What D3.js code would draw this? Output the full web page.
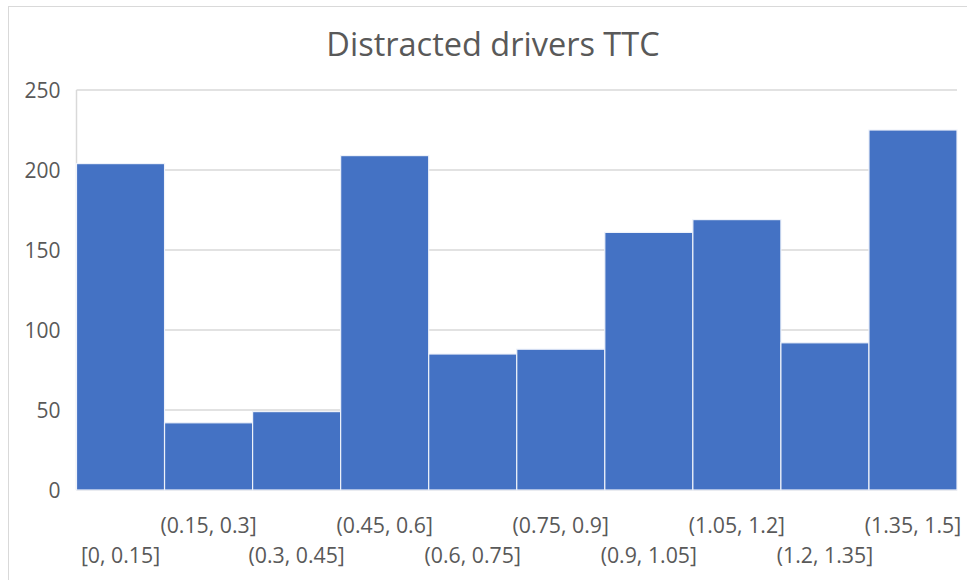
<!DOCTYPE html>
<html>
<head>
<meta charset="utf-8">
<script src="https://cdn.jsdelivr.net/npm/d3@7"></script>
<style>
  html, body { margin: 0; padding: 0; background: #fff; }
  svg { display: block; font-family: "Open Sans", sans-serif; }
</style>
</head>
<body>
<svg id="chart" width="967" height="580"></svg>
<script>
// Histogram bins of time-to-collision (s) and their counts
const bins = ["[0, 0.15]", "(0.15, 0.3]", "(0.3, 0.45]", "(0.45, 0.6]", "(0.6, 0.75]",
              "(0.75, 0.9]", "(0.9, 1.05]", "(1.05, 1.2]", "(1.2, 1.35]", "(1.35, 1.5]"];
const counts = [204, 42, 49, 209, 85, 88, 161, 169, 92, 225];
const yTicks = [0, 50, 100, 150, 200, 250];
const title = "Distracted drivers TTC";

const svg = d3.select("#chart");
const W = 967, H = 580;
const plot = { left: 76.5, right: 957, top: 90, bottom: 490 };

// chart area frame
svg.append("rect")
  .attr("x", 8.5).attr("y", 6.5)
  .attr("width", W + 20).attr("height", H + 20)
  .attr("fill", "#fff").attr("stroke", "#d9d9d9").attr("stroke-width", 1);

const x = d3.scaleBand().domain(bins).range([plot.left, plot.right]).padding(0);
const y = d3.scaleLinear().domain([0, 250]).range([plot.bottom, plot.top]);

// horizontal gridlines
svg.append("g")
  .selectAll("line")
  .data(yTicks)
  .join("line")
  .attr("x1", plot.left).attr("x2", plot.right)
  .attr("y1", d => y(d)).attr("y2", d => y(d))
  .attr("stroke", "#d9d9d9").attr("stroke-width", 1.5);

// left edge of the plot area
svg.append("line")
  .attr("x1", plot.left).attr("x2", plot.left)
  .attr("y1", plot.top).attr("y2", plot.bottom)
  .attr("stroke", "#d9d9d9").attr("stroke-width", 1.5);

// bars
svg.append("g")
  .selectAll("rect")
  .data(bins.map((b, i) => ({ bin: b, n: counts[i] })))
  .join("rect")
  .attr("x", d => x(d.bin))
  .attr("width", x.bandwidth())
  .attr("y", d => y(d.n))
  .attr("height", d => y(0) - y(d.n))
  .attr("fill", "#4472c4")
  .attr("stroke", "#eef2fa")
  .attr("stroke-width", 1.2);

// y-axis
const yAxis = svg.append("g")
  .attr("transform", `translate(${plot.left - 16},0)`)
  .call(d3.axisLeft(y).tickValues(yTicks).tickSize(0).tickPadding(0));
yAxis.select(".domain").remove();
yAxis.selectAll("text")
  .attr("fill", "#595959")
  .style("font-size", "21px")
  .style("font-family", "'Open Sans', sans-serif")
  .attr("dy", "0.36em");

// x-axis with labels staggered over two rows
const xAxis = svg.append("g")
  .attr("transform", `translate(0,${plot.bottom})`)
  .call(d3.axisBottom(x).tickSize(0).tickPadding(0));
xAxis.select(".domain").remove();
xAxis.selectAll("text")
  .attr("fill", "#595959")
  .style("font-size", "21.3px")
  .style("font-family", "'Open Sans', sans-serif")
  .attr("dy", null)
  .attr("y", (d, i) => (i % 2 === 1 ? 42.5 : 72.5));

// title
svg.append("text")
  .attr("x", 493).attr("y", 56)
  .attr("text-anchor", "middle")
  .attr("fill", "#595959")
  .style("font-size", "32.5px")
  .text(title);
</script>
</body>
</html>
